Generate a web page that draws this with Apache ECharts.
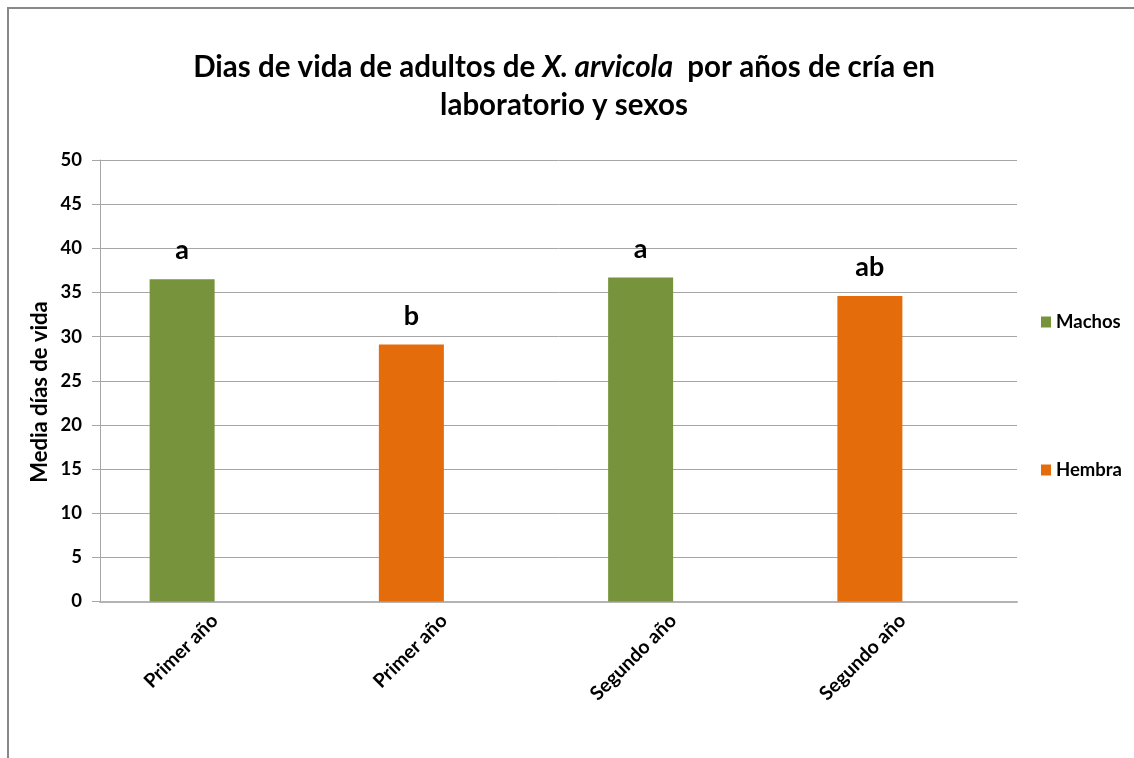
<!DOCTYPE html>
<html>
<head>
<meta charset="utf-8">
<script src="https://cdn.jsdelivr.net/npm/echarts@6/dist/echarts.min.js"></script>
<style>
html,body{margin:0;padding:0;background:#fff;}
#c{width:1134px;height:758px;}
</style>
</head>
<body>
<div id="c"></div>
<script>
var categories = ['Primer año', 'Primer año', 'Segundo año', 'Segundo año'];
var machos = [36.5, null, 36.7, null];
var hembra = [null, 29.1, null, 34.6];
var letters = ['a', 'b', 'a', 'ab'];
var yTicks = [0, 5, 10, 15, 20, 25, 30, 35, 40, 45, 50];

var FONT = 'Lato';
var chart = echarts.init(document.getElementById('c'), null, {renderer: 'canvas'});

var labelOpt = {
  show: true,
  position: 'top',
  distance: 15,
  fontFamily: FONT,
  fontWeight: 'bold',
  fontSize: 27,
  color: '#000',
  formatter: function (p) { return letters[p.dataIndex]; }
};

chart.setOption({
  backgroundColor: '#fff',
  animation: false,
  title: {
    left: 564,
    textAlign: 'center',
    top: 48,
    padding: 0,
    text: 'Dias de vida de adultos de {i|X. arvicola}  por años de cría en\nlaboratorio y sexos',
    textStyle: {
      fontFamily: FONT,
      fontWeight: 'bold',
      fontSize: 29.5,
      lineHeight: 38,
      color: '#000',
      rich: {
        i: {fontFamily: FONT, fontWeight: 'bold', fontStyle: 'italic', fontSize: 29.5, lineHeight: 38, color: '#000'}
      }
    }
  },
  legend: {
    orient: 'vertical',
    left: 1041,
    top: 312,
    padding: 0,
    data: ['Machos', 'Hembra'],
    itemWidth: 10,
    itemHeight: 11,
    itemGap: 128,
    icon: 'rect',
    textStyle: {fontFamily: FONT, fontWeight: 'bold', fontSize: 18.5, color: '#000', lineHeight: 20}
  },
  grid: {left: 100, right: 117, top: 160, bottom: 156.5, containLabel: false},
  xAxis: {
    type: 'category',
    data: categories,
    axisLine: {lineStyle: {color: '#b3b3b3', width: 2}},
    axisTick: {show: false},
    axisLabel: {
      rotate: 45,
      margin: 16,
      interval: 0,
      fontFamily: FONT,
      fontWeight: 'bold',
      fontSize: 19.5,
      color: '#000'
    }
  },
  yAxis: {
    type: 'value',
    min: 0,
    max: 50,
    interval: 5,
    axisLine: {show: true, lineStyle: {color: '#a6a6a6', width: 1}},
    axisTick: {show: true, inside: false, length: 8, lineStyle: {color: '#a6a6a6'}},
    splitLine: {lineStyle: {color: '#a6a6a6', width: 1}},
    axisLabel: {
      margin: 18,
      fontFamily: FONT,
      fontWeight: 'bold',
      fontSize: 18.5,
      color: '#000',
      formatter: function (v) { return yTicks.indexOf(v) >= 0 ? String(v) : ''; }
    }
  },
  series: [
    {name: 'Machos', type: 'bar', stack: 'g1', data: machos, barWidth: 65, barGap: '0%',
     itemStyle: {color: '#77933c'}, label: labelOpt},
    {name: 'Hembra', type: 'bar', stack: 'g1', data: hembra, barWidth: 65, barGap: '0%',
     itemStyle: {color: '#e46c0a'}, label: labelOpt},
    {name: 'pad', type: 'bar', stack: 'g2', data: [null, null, null, null], barWidth: 65, barGap: '0%',
     itemStyle: {color: 'transparent'}, silent: true}
  ],
  graphic: [
    {type: 'rect', silent: true, z: -1,
     shape: {x: 8, y: 8, width: 1140, height: 760},
     style: {fill: 'none', stroke: '#888888', lineWidth: 2}},
    {type: 'text', x: 40, y: 392, rotation: Math.PI / 2,
     style: {text: 'Media días de vida', fontFamily: FONT, fontWeight: 'bold', fontSize: 22,
             fill: '#000', textAlign: 'center', textVerticalAlign: 'middle'}}
  ]
});
</script>
</body>
</html>
